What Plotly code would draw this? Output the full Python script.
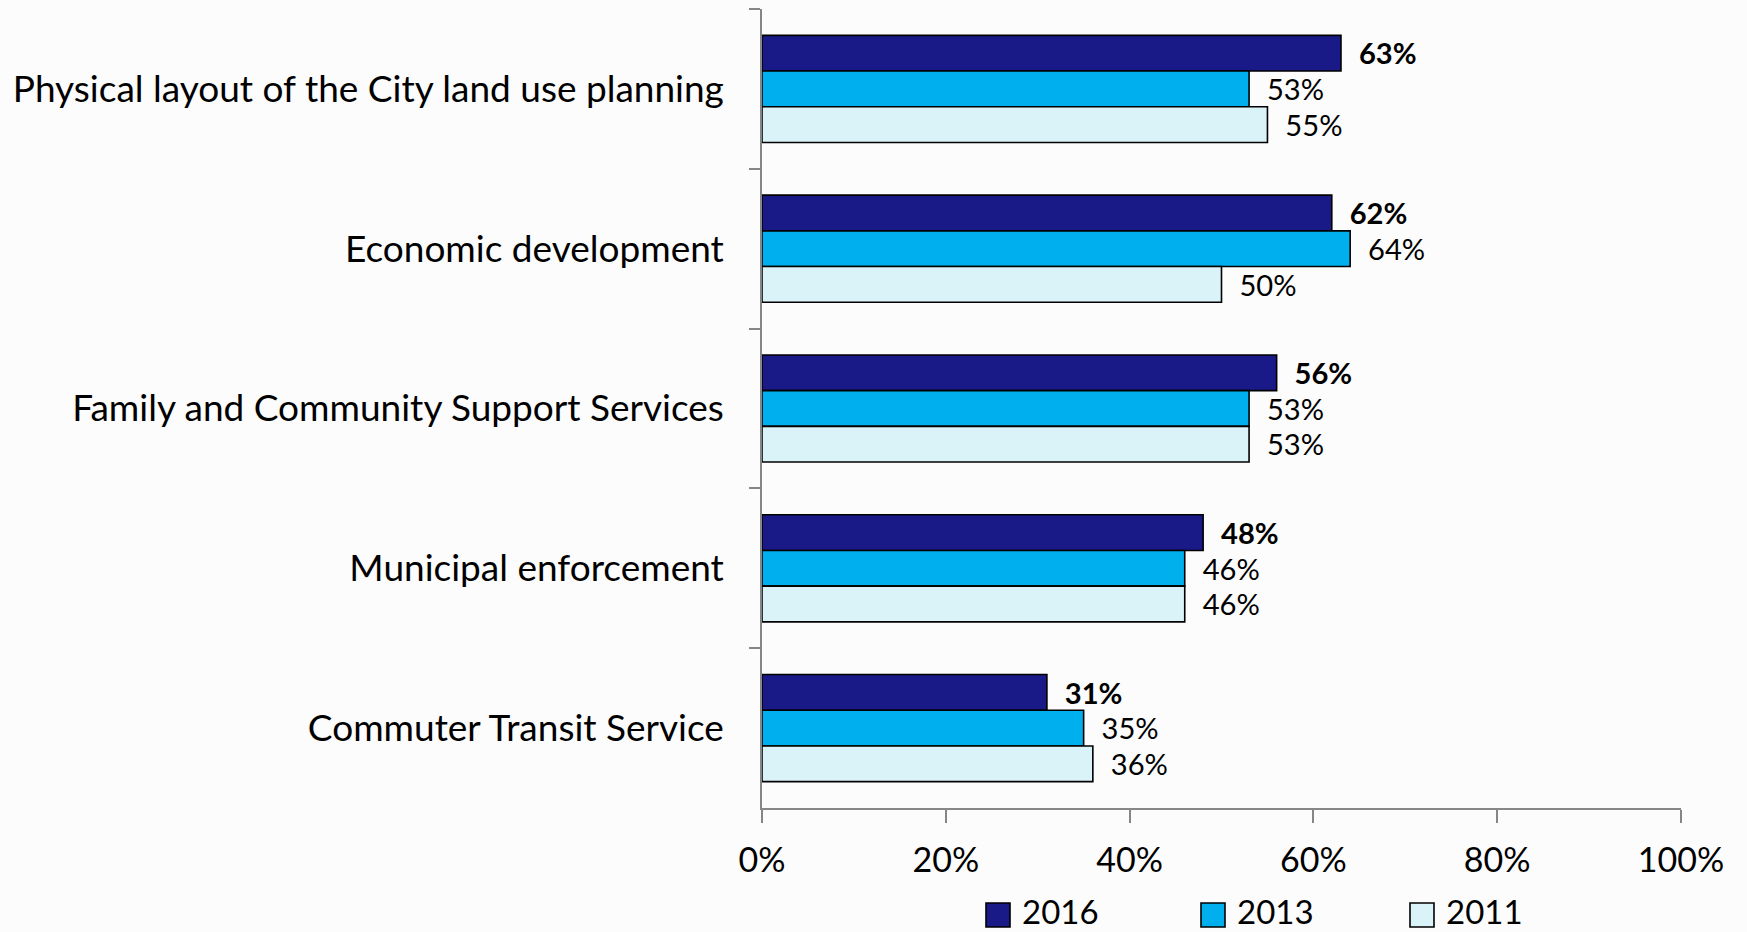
import plotly.graph_objects as go

categories = [
    "Physical layout of the City land use planning",
    "Economic development",
    "Family and Community Support Services",
    "Municipal enforcement",
    "Commuter Transit Service",
]
years = ["2016", "2013", "2011"]
values_2016 = [63, 62, 56, 48, 31]
values_2013 = [53, 64, 53, 46, 35]
values_2011 = [55, 50, 53, 46, 36]
x_ticks = [0, 20, 40, 60, 80, 100]

colors = {"2016": "#191a87", "2013": "#00b0ee", "2011": "#daf3f8"}
series = {"2016": values_2016, "2013": values_2013, "2011": values_2011}

FONT = "Lato"
pad = "\u00a0\u00a0"

W, H = 1747, 932
ML, MR, MT, MB = 762, 66, 9, 124
PW, PH = W - ML - MR, H - MT - MB

fig = go.Figure()
for yr in years:
    vals = series[yr]
    if yr == "2016":
        labels = [f"{pad}<b>{v}%</b>" for v in vals]
    else:
        labels = [f"{pad}{v}%" for v in vals]
    fig.add_trace(go.Bar(
        y=categories, x=vals, orientation="h", name=yr,
        marker=dict(color=colors[yr], line=dict(color="#000000", width=1.6)),
        text=labels, textposition="outside", cliponaxis=False,
        textfont=dict(family=FONT, size=31, color="#000000"),
        showlegend=False,
    ))

# legend row below the axis: swatch + year label per series
legend_left_px = [986, 1201, 1410]
swatch_px = 24
legend_mid_px = 911
for yr, lx in zip(years, legend_left_px):
    x0 = (lx - ML) / PW
    x1 = (lx + swatch_px - ML) / PW
    y0 = (MT + PH - (legend_mid_px + 4 + swatch_px / 2)) / PH
    y1 = (MT + PH - (legend_mid_px + 4 - swatch_px / 2)) / PH
    fig.add_shape(type="rect", xref="paper", yref="paper",
                  x0=x0, x1=x1, y0=y0, y1=y1,
                  fillcolor=colors[yr], line=dict(color="#000000", width=1.6))
    fig.add_annotation(xref="paper", yref="paper",
                       x=(lx + swatch_px + 10 - ML) / PW,
                       y=(MT + PH - legend_mid_px) / PH,
                       text=yr, showarrow=False, xanchor="left", yanchor="middle",
                       font=dict(family=FONT, size=33, color="#000000"))

fig.update_layout(
    width=W, height=H,
    margin=dict(l=ML, r=MR, t=MT, b=MB),
    paper_bgcolor="#fcfcfc", plot_bgcolor="#fcfcfc",
    barmode="group", bargap=0.33, bargroupgap=0,
    font=dict(family=FONT, color="#000000"),
    showlegend=False,
    xaxis=dict(
        range=[0, 100], tickmode="array", tickvals=x_ticks,
        ticktext=[f"{t}%" for t in x_ticks],
        showgrid=False, zeroline=False,
        showline=True, linecolor="#868686", linewidth=1.5,
        ticks="outside", ticklen=13, tickcolor="#868686", tickwidth=1.5,
        tickfont=dict(family=FONT, size=34, color="#000000"),
        ticklabelstandoff=8,
    ),
    yaxis=dict(
        type="category", categoryorder="array", categoryarray=categories,
        range=[4.5, -0.5],
        showgrid=False, zeroline=False,
        showline=True, linecolor="#868686", linewidth=1.5,
        ticks="outside", tickson="boundaries", ticklen=11,
        tickcolor="#868686", tickwidth=1.5,
        tickfont=dict(family=FONT, size=37, color="#000000"),
        ticklabelstandoff=29,
    ),
)

fig.write_html("out.html")
